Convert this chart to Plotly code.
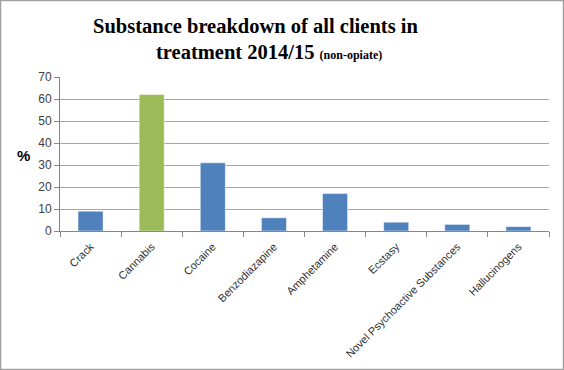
import plotly.graph_objects as go

categories = ["Crack", "Cannabis", "Cocaine", "Benzodiazapine", "Amphetamine",
              "Ecstasy", "Novel Psychoactive Substances", "Hallucinogens"]
values = [9, 62, 31, 6, 17, 4, 3, 2]
colors = ["#4F81BD", "#9BBB59", "#4F81BD", "#4F81BD", "#4F81BD",
          "#4F81BD", "#4F81BD", "#4F81BD"]
y_ticks = [0, 10, 20, 30, 40, 50, 60, 70]

W, H = 564, 370
ml, mr, mt, mb = 60, 15, 77, 139
pw, ph = W - ml - mr, H - mt - mb

fig = go.Figure(go.Bar(
    x=categories, y=values,
    marker=dict(color=colors, line=dict(color="#FFFFFF", width=0.5)),
    width=0.41,
    hoverinfo="skip",
))

def px(x):
    return (x - ml) / pw

def py(y):
    return (H - mb - y) / ph

title_font = dict(family="Liberation Serif", size=20.5, color="#000000")

fig.update_layout(
    width=W, height=H,
    margin=dict(l=ml, r=mr, t=mt, b=mb, autoexpand=False),
    paper_bgcolor="white", plot_bgcolor="white",
    showlegend=False,
    xaxis=dict(
        type="category", tickson="boundaries", ticks="outside", ticklen=5,
        tickcolor="#868686", showline=True, linecolor="#868686", linewidth=1,
        showgrid=False, tickangle=-45, ticklabelstandoff=4, automargin=False,
        tickfont=dict(family="Liberation Sans", size=11, color="#303030"),
        range=[-0.5, 7.5],
    ),
    yaxis=dict(
        range=[0, 70], tickvals=y_ticks, ticks="outside", ticklen=5,
        tickcolor="#868686", showline=True, linecolor="#868686", linewidth=1,
        showgrid=True, gridcolor="#A6A6A6", gridwidth=1, zeroline=False,
        automargin=False,
        tickfont=dict(family="Liberation Sans", size=12, color="#404040"),
    ),
    annotations=[
        dict(text="<b>Substance breakdown of all clients in</b>",
             xref="paper", yref="paper", x=px(255), y=py(26),
             xanchor="center", yanchor="middle", showarrow=False, font=title_font),
        dict(text="<b>treatment 2014/15 <span style='font-size:12px'>(non-opiate)</span></b>",
             xref="paper", yref="paper", x=px(269), y=py(52),
             xanchor="center", yanchor="middle", showarrow=False, font=title_font),
        dict(text="<b>%</b>", xref="paper", yref="paper", x=px(23), y=py(155),
             xanchor="center", yanchor="middle", showarrow=False,
             font=dict(family="Liberation Sans", size=15, color="#000000")),
    ],
    shapes=[dict(
        type="rect", xref="paper", yref="paper",
        x0=px(0.5), x1=px(W - 0.5), y0=py(0.5), y1=py(H - 0.5),
        line=dict(color="#A0A0A0", width=1.5), layer="above",
    )],
)

fig.write_html("out.html", config={"displayModeBar": False})
with open("out.html", "r", encoding="utf-8") as f:
    html = f.read()
html = html.replace("<body>", "<body style=\"margin:0;padding:0;overflow:hidden\">", 1)
html = html.replace("<head>", "<head><style>html,body{margin:0;padding:0;}</style>", 1)
with open("out.html", "w", encoding="utf-8") as f:
    f.write(html)
